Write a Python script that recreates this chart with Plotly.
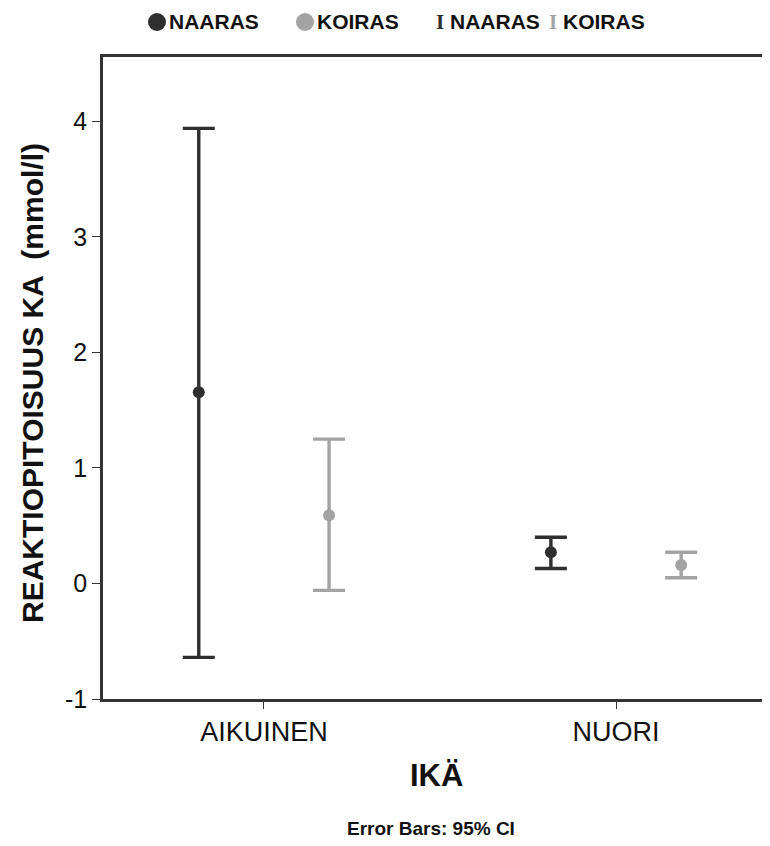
import plotly.graph_objects as go

categories = ["AIKUINEN", "NUORI"]
cat_pos = [0, 1]
groups = ["NAARAS", "KOIRAS"]
offsets = [-0.185, 0.185]
colors = ["#2f2f2f", "#a3a3a3"]

means = {"NAARAS": [1.655, 0.27], "KOIRAS": [0.59, 0.16]}
upper = {"NAARAS": [3.94, 0.40], "KOIRAS": [1.25, 0.27]}
lower = {"NAARAS": [-0.64, 0.13], "KOIRAS": [-0.06, 0.05]}

y_ticks = [-1, 0, 1, 2, 3, 4]
y_tick_text = ["-1", "0", "1", "2", "3", "4"]

W, H = 770, 846
OFF = 8  # page body margin
L, R, T, B = 95, 0, 49, 155
pw, ph = W - L - R, H - T - B

def px_x(sx):
    return (sx - OFF - L) / pw

def px_y(sy):
    return (H - B - (sy - OFF)) / ph

fig = go.Figure()
for g, off, col in zip(groups, offsets, colors):
    xs = [c + off for c in cat_pos]
    m = means[g]
    fig.add_trace(go.Scatter(
        x=xs, y=m, mode="markers", name=g,
        marker=dict(color=col, size=12),
        error_y=dict(type="data", symmetric=False,
                     array=[u - v for u, v in zip(upper[g], m)],
                     arrayminus=[v - l for v, l in zip(m, lower[g])],
                     color=col, thickness=3.4, width=16),
        showlegend=False,
    ))

font_main = "Liberation Sans, Arial, sans-serif"
LEG_Y = 22

annotations = []
shapes = []
# legend: circle markers for means
for cx, col, label, tx in [(157, colors[0], "NAARAS", 168), (305, colors[1], "KOIRAS", 316)]:
    shapes.append(dict(type="circle", xref="paper", yref="paper",
                       xsizemode="pixel", ysizemode="pixel",
                       xanchor=px_x(cx), yanchor=px_y(LEG_Y),
                       x0=-9, x1=9, y0=-9, y1=9,
                       fillcolor=col, line=dict(width=0)))
    annotations.append(dict(x=px_x(tx), y=px_y(LEG_Y), xref="paper", yref="paper",
                            xanchor="left", yanchor="middle", showarrow=False, borderpad=0,
                            text=f"<b>{label}</b>",
                            font=dict(family=font_main, size=21, color="#111")))
# legend: error bar glyphs
for sx, col, label in [(435, colors[0], "NAARAS"), (548, colors[1], "KOIRAS")]:
    annotations.append(dict(x=px_x(sx), y=px_y(LEG_Y), xref="paper", yref="paper",
                            xanchor="left", yanchor="middle", showarrow=False, borderpad=0,
                            text=f"<span style='color:{col};font-family:Liberation Serif'><b>I</b></span> <b>{label}</b>",
                            font=dict(family=font_main, size=21, color="#111")))

annotations.append(dict(x=px_x(33), y=px_y(383), xref="paper", yref="paper",
                        xanchor="center", yanchor="middle", showarrow=False, textangle=-90,
                        text="<b>REAKTIOPITOISUUS KA  (mmol/l)</b>",
                        font=dict(family=font_main, size=30, color="#111")))
annotations.append(dict(x=px_x(436), y=px_y(775), xref="paper", yref="paper",
                        xanchor="center", yanchor="middle", showarrow=False,
                        text="<b>IKÄ</b>", font=dict(family=font_main, size=31, color="#111")))
annotations.append(dict(x=px_x(431), y=px_y(828), xref="paper", yref="paper",
                        xanchor="center", yanchor="middle", showarrow=False,
                        text="<b>Error Bars: 95% CI</b>",
                        font=dict(family=font_main, size=19, color="#111")))

fig.update_layout(
    width=W, height=H,
    margin=dict(l=L, r=R, t=T, b=B, pad=0),
    paper_bgcolor="white", plot_bgcolor="white",
    annotations=annotations,
    shapes=shapes,
    xaxis=dict(range=[-0.457, 1.460], tickvals=cat_pos, ticktext=categories,
               showgrid=False, zeroline=False, showline=True, linecolor="#333",
               linewidth=2.5, mirror=True, ticks="outside", ticklen=7, tickwidth=1,
               tickcolor="#333", tickfont=dict(family=font_main, size=27, color="#111")),
    yaxis=dict(range=[-1, 4.558], tickvals=y_ticks, ticktext=y_tick_text,
               showgrid=False, zeroline=False,
               showline=True, linecolor="#333", linewidth=2.5, mirror=False,
               ticks="outside", ticklen=8, tickwidth=1, tickcolor="#333",
               tickfont=dict(family=font_main, size=25, color="#111")),
)

fig.write_html("out.html")
